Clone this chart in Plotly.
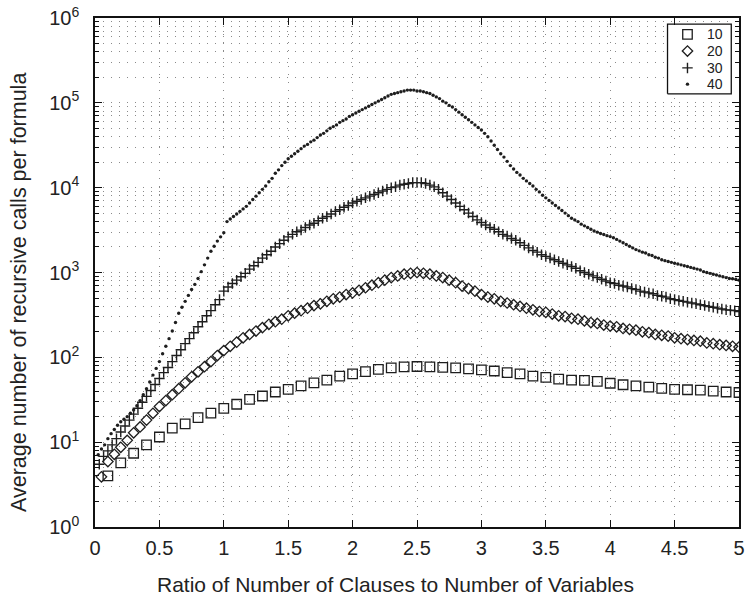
import plotly.graph_objects as go

# Average recursive calls per formula vs clause/variable ratio, for 10/20/30/40 variables
n_vars = [10, 20, 30, 40]

calls_10 = [4.0, 5.7, 7.4, 9.3, 11.5, 14.6, 16.4, 19.5, 22, 25,
            28, 32, 35, 39, 42, 46, 50, 54, 60, 64,
            68, 72, 75, 77, 78, 77, 76, 75, 73, 71,
            69, 66, 64, 60, 58, 55.5, 54, 53.5, 52, 49.5,
            47.5, 46, 44.5, 43, 42, 41.5, 41, 40, 39, 38.5]

calls_20 = [3.9, 5.9, 7.2, 8.7, 10.5, 12.9, 15.1, 18.2, 21.9, 26.3,
            30.9, 36.3, 42.7, 50.1, 58.9, 67.6, 77.6, 89.1, 105, 120,
            135, 151, 170, 186, 204, 224, 245, 263, 282, 309,
            331, 355, 380, 407, 427, 457, 490, 513, 550, 575,
            617, 661, 708, 759, 813, 871, 912, 955, 977, 1000,
            977, 955, 912, 871, 813, 759, 692, 646, 603, 550,
            513, 490, 457, 437, 417, 398, 380, 363, 347, 339,
            324, 309, 302, 288, 282, 269, 257, 251, 240, 234,
            229, 219, 214, 209, 200, 195, 186, 182, 178, 170,
            166, 162, 158, 155, 148, 145, 141, 138, 135, 132]

calls_30 = [5.5, 6.8, 7.9, 9.3, 11.0, 13.2, 15.5, 18.2, 21.4, 25.1,
            29.5, 34.7, 40.7, 47.9, 56.2, 66.1, 75.9, 89.1, 105, 123,
            145, 166, 195, 229, 263, 309, 355, 417, 479, 603,
            676, 741, 813, 891, 977, 1096, 1202, 1318, 1479, 1622,
            1778, 1995, 2188, 2399, 2630, 2818, 3020, 3162, 3388, 3631,
            3802, 4074, 4365, 4571, 4898, 5248, 5495, 5888, 6166, 6607,
            6918, 7244, 7586, 7943, 8318, 8710, 9120, 9550, 10000, 10230,
            10720, 10960, 11220, 11480, 11480, 11480, 11220, 10720, 10230, 9550,
            8710, 7943, 7244, 6607, 6026, 5495, 5012, 4571, 4169, 3890,
            3631, 3388, 3236, 3020, 2818, 2692, 2512, 2399, 2239, 2089,
            1950, 1820, 1738, 1622, 1549, 1479, 1413, 1349, 1288, 1230,
            1175, 1122, 1047, 1000, 955, 912, 871, 832, 794, 759,
            741, 708, 692, 676, 646, 631, 603, 589, 575, 562,
            537, 525, 513, 490, 479, 468, 457, 447, 437, 427,
            417, 407, 398, 389, 380, 372, 363, 360, 355, 347]

calls_40 = [7.1, 8.3, 9.3, 11.0, 12.6, 14.1, 15.8, 17.4, 18.6, 20.0,
            21.9, 24.0, 26.9, 30.9, 36.3, 42.7, 51.3, 61.7, 74.1, 89.1,
            110, 135, 166, 204, 257, 331, 389, 457, 537, 631,
            724, 851, 1023, 1230, 1479, 1778, 2042, 2344, 2630, 2951,
            3981, 4266, 4571, 4898, 5248, 5623, 6026, 6607, 7244, 7943,
            8710, 9550, 10470, 11750, 12880, 14790, 16220, 18200, 19950, 21880,
            23440, 25120, 26920, 28840, 30900, 32360, 34670, 36310, 38900, 41690,
            43650, 46770, 50120, 52480, 54950, 58880, 61660, 64570, 69180, 72440,
            75860, 79430, 83180, 87100, 91200, 95500, 100000, 104700, 109600, 114800,
            120200, 125900, 128800, 131800, 134900, 138000, 141300, 141300, 141300, 138000,
            138000, 134900, 131800, 128800, 123000, 117500, 112200, 104700, 100000, 93330,
            89130, 83180, 77620, 72440, 67610, 63100, 58880, 54950, 51290, 47860,
            43650, 39810, 35480, 31620, 28180, 25120, 22910, 20420, 18200, 16600,
            15140, 14130, 12880, 12020, 11220, 10470, 9550, 8913, 8128, 7586,
            7079, 6607, 6166, 5754, 5370, 5012, 4677, 4365, 4169, 3981,
            3715, 3548, 3388, 3236, 3090, 2990, 2884, 2800, 2720, 2650,
            2570, 2455, 2344, 2239, 2138, 2042, 1950, 1862, 1800, 1738,
            1698, 1622, 1585, 1514, 1479, 1413, 1380, 1349, 1318, 1288,
            1259, 1230, 1202, 1175, 1148, 1122, 1096, 1072, 1023, 1000,
            977, 955, 933, 912, 891, 871, 851, 845, 832, 813]

series = [calls_10, calls_20, calls_30, calls_40]
legend_labels = [str(n) for n in n_vars]

x_ticks = [0, 0.5, 1, 1.5, 2, 2.5, 3, 3.5, 4, 4.5, 5]
decades = [0, 1, 2, 3, 4, 5, 6]
y_tick_text = ["10<sup>%d</sup>" % d for d in decades]

# Ratio m/n for m = 1 .. 5n clauses
def ratios(n, count):
    return [(m + 1) / n for m in range(count)]

ink = "#1e1e1e"
font = "Liberation Sans, Arial, sans-serif"
styles = [
    dict(symbol="square-open", size=9.5, line=dict(width=1.3, color=ink)),
    dict(symbol="diamond-open", size=8, line=dict(width=1.3, color=ink)),
    dict(symbol="cross-thin-open", size=7.5, line=dict(width=1.4, color=ink)),
    dict(symbol="circle", size=3.4, line=dict(width=0)),
]

fig = go.Figure()
for n, vals, st in zip(n_vars, series, styles):
    fig.add_trace(go.Scatter(
        x=ratios(n, len(vals)), y=vals, mode="markers", name=str(n),
        marker=dict(color=ink, **st), showlegend=False,
    ))

# Compact boxed key in the upper-right corner, on an overlay axis spanning [0, 1]
box_x = [0.889, 0.988]
box_y = [0.851, 0.988]
key_x = 0.920
key_text_x = 0.979
key_rows = [0.968, 0.935, 0.902, 0.870]

fig.add_trace(go.Scatter(
    x=[box_x[0], box_x[1], box_x[1], box_x[0], box_x[0]],
    y=[box_y[0], box_y[0], box_y[1], box_y[1], box_y[0]],
    mode="lines", fill="toself", fillcolor="white",
    line=dict(color="#111111", width=1.3),
    xaxis="x2", yaxis="y2", showlegend=False, hoverinfo="skip",
))
for row, st in zip(key_rows, styles):
    fig.add_trace(go.Scatter(
        x=[key_x], y=[row], mode="markers",
        marker=dict(color=ink, **st),
        xaxis="x2", yaxis="y2", showlegend=False, hoverinfo="skip",
    ))

annotations = [
    dict(text=lab, xref="paper", yref="paper", x=key_text_x, y=row,
         xanchor="right", yanchor="middle", showarrow=False,
         font=dict(size=14, family=font, color="#222222"))
    for lab, row in zip(legend_labels, key_rows)
]
annotations += [
    dict(text="Ratio of Number of Clauses to Number of Variables",
         xref="paper", yref="paper", x=0.466, y=-0.113,
         xanchor="center", yanchor="middle", showarrow=False,
         font=dict(size=21, family=font, color="#222222")),
    dict(text="Average number of recursive calls per formula",
         xref="paper", yref="paper", x=-0.117, y=0.461,
         xanchor="center", yanchor="middle", showarrow=False, textangle=-90,
         font=dict(size=21.5, family=font, color="#222222")),
]

grid_dash = "1px,7px"
grid_color = "#8a8a8a"
minor_vals = [m * 10 ** d for d in decades[:-1] for m in range(2, 10)]

fig.update_layout(
    width=749, height=598,
    margin=dict(l=95, r=4, t=17, b=71),
    paper_bgcolor="white", plot_bgcolor="white",
    font=dict(family=font, color="#222222", size=20),
    showlegend=False,
    xaxis=dict(
        range=[0, 5], tickmode="array", tickvals=x_ticks,
        ticks="inside", ticklen=7, tickwidth=1, tickcolor="#111111",
        showline=True, linecolor="#111111", linewidth=1.5, mirror="ticks",
        zeroline=False, ticklabelstandoff=2,
        showgrid=True, gridcolor=grid_color, gridwidth=1, griddash=grid_dash,
    ),
    yaxis=dict(
        type="log", range=[0, 6], tickmode="array",
        tickvals=[10 ** d for d in decades], ticktext=y_tick_text,
        ticks="inside", ticklen=7, tickwidth=1, tickcolor="#111111",
        showline=True, linecolor="#111111", linewidth=1.5, mirror="ticks",
        zeroline=False, ticklabelstandoff=10,
        showgrid=True, gridcolor=grid_color, gridwidth=1, griddash=grid_dash,
        minor=dict(tickmode="array", tickvals=minor_vals, ticks="inside",
                   ticklen=4, tickcolor="#111111", showgrid=True,
                   gridcolor=grid_color, gridwidth=1, griddash=grid_dash),
    ),
    xaxis2=dict(overlaying="x", range=[0, 1], visible=False, fixedrange=True),
    yaxis2=dict(overlaying="y", range=[0, 1], visible=False, fixedrange=True),
    annotations=annotations,
)

fig.write_html("out.html")
